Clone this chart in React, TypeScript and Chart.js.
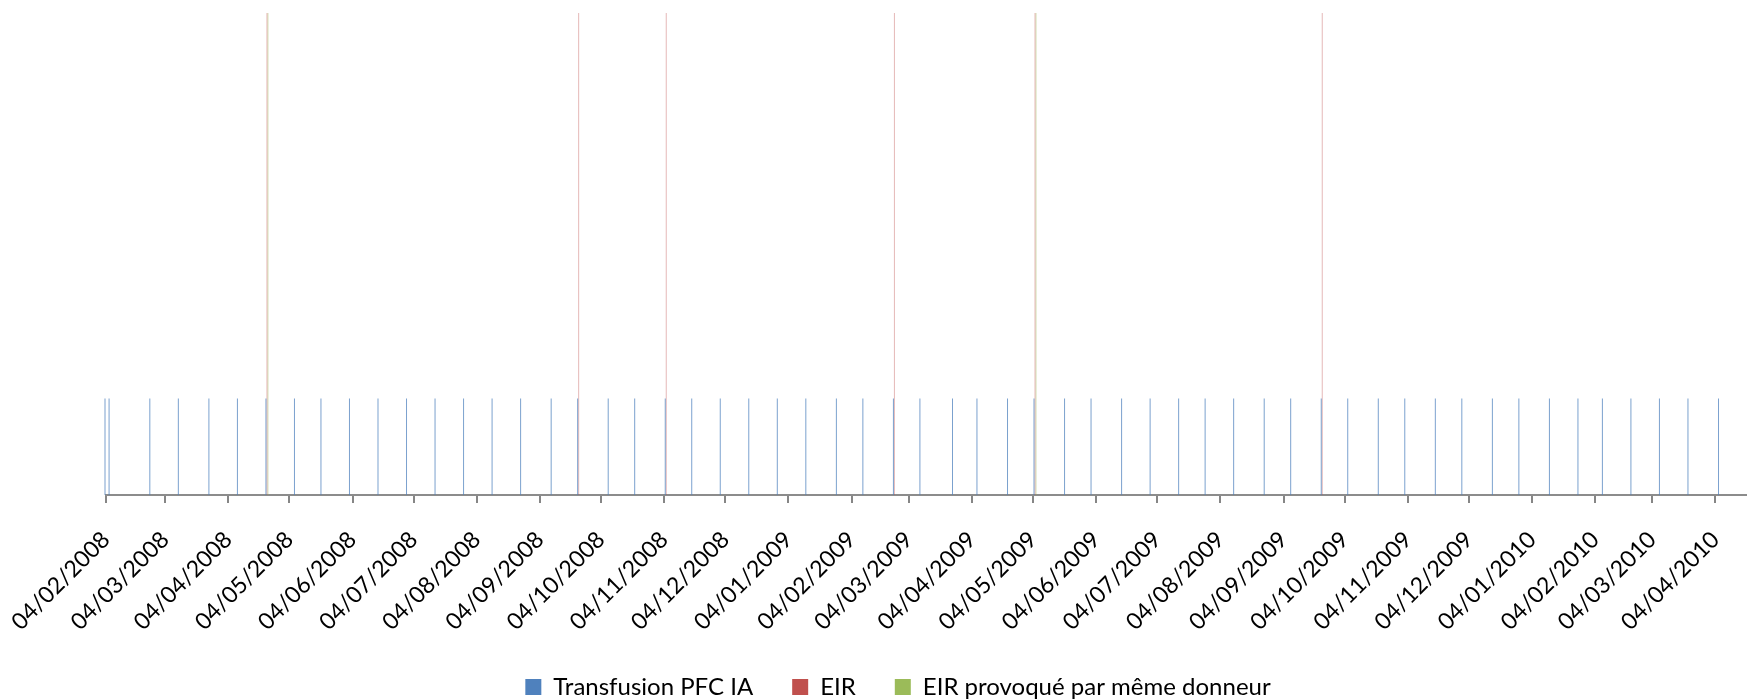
import React, { useEffect, useRef } from 'react';
import { Chart, registerables } from 'chart.js';

Chart.register(...registerables);

const seriesNames = ['Transfusion PFC IA', 'EIR', 'EIR provoqué par même donneur'];
const legendColors = ['#4F81BD', '#C0504D', '#9BBB59'];
const barColors = ['rgba(79,129,189,0.75)', 'rgba(192,80,77,0.4)', 'rgba(155,187,89,0.45)'];

const transfusionDates = [
  '2008-02-04', '2008-02-06', '2008-02-26', '2008-03-11', '2008-03-26', '2008-04-09', '2008-04-23',
  '2008-05-07', '2008-05-20', '2008-06-03', '2008-06-17', '2008-07-01', '2008-07-15', '2008-07-29',
  '2008-08-12', '2008-08-26', '2008-09-10', '2008-09-23', '2008-10-08', '2008-10-21', '2008-11-05',
  '2008-11-18', '2008-12-02', '2008-12-16', '2008-12-30', '2009-01-13', '2009-01-28', '2009-02-10',
  '2009-02-25', '2009-03-10', '2009-03-26', '2009-04-07', '2009-04-22', '2009-05-05', '2009-05-20',
  '2009-06-02', '2009-06-17', '2009-07-01', '2009-07-15', '2009-07-28', '2009-08-11', '2009-08-26',
  '2009-09-08', '2009-09-23', '2009-10-06', '2009-10-21', '2009-11-03', '2009-11-18', '2009-12-01',
  '2009-12-16', '2009-12-29', '2010-01-13', '2010-01-27', '2010-02-08', '2010-02-22', '2010-03-08',
  '2010-03-22', '2010-04-06',
];
const transfusionValues = [
  1, 1, 1, 1, 1, 1, 1,
  1, 1, 1, 1, 1, 1, 1,
  1, 1, 1, 1, 1, 1, 1,
  1, 1, 1, 1, 1, 1, 1,
  1, 1, 1, 1, 1, 1, 1,
  1, 1, 1, 1, 1, 1, 1,
  1, 1, 1, 1, 1, 1, 1,
  1, 1, 1, 1, 1, 1, 1,
  1, 1,
];

const eirDates = ['2008-04-23', '2008-09-23', '2008-11-05', '2009-02-25', '2009-05-05', '2009-09-23'];
const eirValues = [5, 5, 5, 5, 5, 5];

const sameDonorDates = ['2008-04-23', '2009-05-05'];
const sameDonorValues = [5, 5];

const tickLabels = [
  '04/02/2008', '04/03/2008', '04/04/2008', '04/05/2008', '04/06/2008', '04/07/2008', '04/08/2008',
  '04/09/2008', '04/10/2008', '04/11/2008', '04/12/2008', '04/01/2009', '04/02/2009', '04/03/2009',
  '04/04/2009', '04/05/2009', '04/06/2009', '04/07/2009', '04/08/2009', '04/09/2009', '04/10/2009',
  '04/11/2009', '04/12/2009', '04/01/2010', '04/02/2010', '04/03/2010', '04/04/2010',
];

const axisStart = '2008-02-04';
const axisEnd = '2010-04-19';
const yMax = 5;

const DAY = 86400000;
const isoToDay = (s: string) => {
  const [y, m, d] = s.split('-').map(Number);
  return Date.UTC(y, m - 1, d) / DAY;
};
const dmyToDay = (s: string) => {
  const [d, m, y] = s.split('/').map(Number);
  return Date.UTC(y, m - 1, d) / DAY;
};

const FONT = "Lato, 'Open Sans', sans-serif";

export default function App() {
  const ref = useRef<HTMLCanvasElement | null>(null);

  useEffect(() => {
    document.body.style.margin = '0';
    const canvas = ref.current;
    if (!canvas) return;

    const mk = (dates: string[], values: number[]) =>
      dates.map((d, i) => ({ x: isoToDay(d), y: values[i] }));

    const chart = new Chart(canvas, {
      type: 'bar',
      data: {
        datasets: [
          { label: seriesNames[0], data: mk(transfusionDates, transfusionValues), backgroundColor: barColors[0] },
          { label: seriesNames[1], data: mk(eirDates, eirValues), backgroundColor: barColors[1] },
          { label: seriesNames[2], data: mk(sameDonorDates, sameDonorValues), backgroundColor: barColors[2] },
        ] as any,
      },
      options: {
        responsive: false,
        animation: false,
        devicePixelRatio: 1,
        layout: { padding: { left: 48, right: 0, top: 13, bottom: -10 } },
        datasets: {
          bar: { barThickness: 1, borderWidth: 0, inflateAmount: 0, clip: false } as any,
        },
        plugins: {
          tooltip: { enabled: false },
          legend: {
            position: 'bottom',
            labels: {
              boxWidth: 16,
              boxHeight: 16,
              padding: 39,
              color: '#000',
              font: { family: FONT, size: 24 },
              generateLabels: () =>
                seriesNames.map((name, i) => ({
                  text: name,
                  fillStyle: legendColors[i],
                  strokeStyle: legendColors[i],
                  lineWidth: 0,
                  hidden: false,
                  datasetIndex: i,
                })) as any,
            },
          },
        },
        scales: {
          x: {
            type: 'linear',
            offset: false,
            min: isoToDay(axisStart),
            max: isoToDay(axisEnd),
            afterBuildTicks: (scale: any) => {
              scale.ticks = tickLabels.map((l) => ({ value: dmyToDay(l) }));
            },
            afterFit: (scale: any) => {
              scale.paddingLeft = 106;
              scale.paddingRight = 2;
              scale.height = 141;
            },
            grid: {
              offset: false,
              drawOnChartArea: false,
              drawTicks: true,
              tickLength: 8,
              color: '#868686',
              lineWidth: 2,
            },
            border: { display: true, color: '#8c8c8c', width: 2 },
            ticks: {
              autoSkip: false,
              maxRotation: 45,
              minRotation: 45,
              padding: 23,
              color: '#000',
              font: { family: FONT, size: 23 },
              callback: (_v: any, i: number) => tickLabels[i],
            },
          },
          y: {
            display: false,
            min: 0,
            max: yMax,
          },
        },
      } as any,
    });

    return () => chart.destroy();
  }, []);

  return (
    <div style={{ width: 1748, height: 699 }}>
      <canvas ref={ref} width={1748} height={699} style={{ display: 'block' }} />
    </div>
  );
}
